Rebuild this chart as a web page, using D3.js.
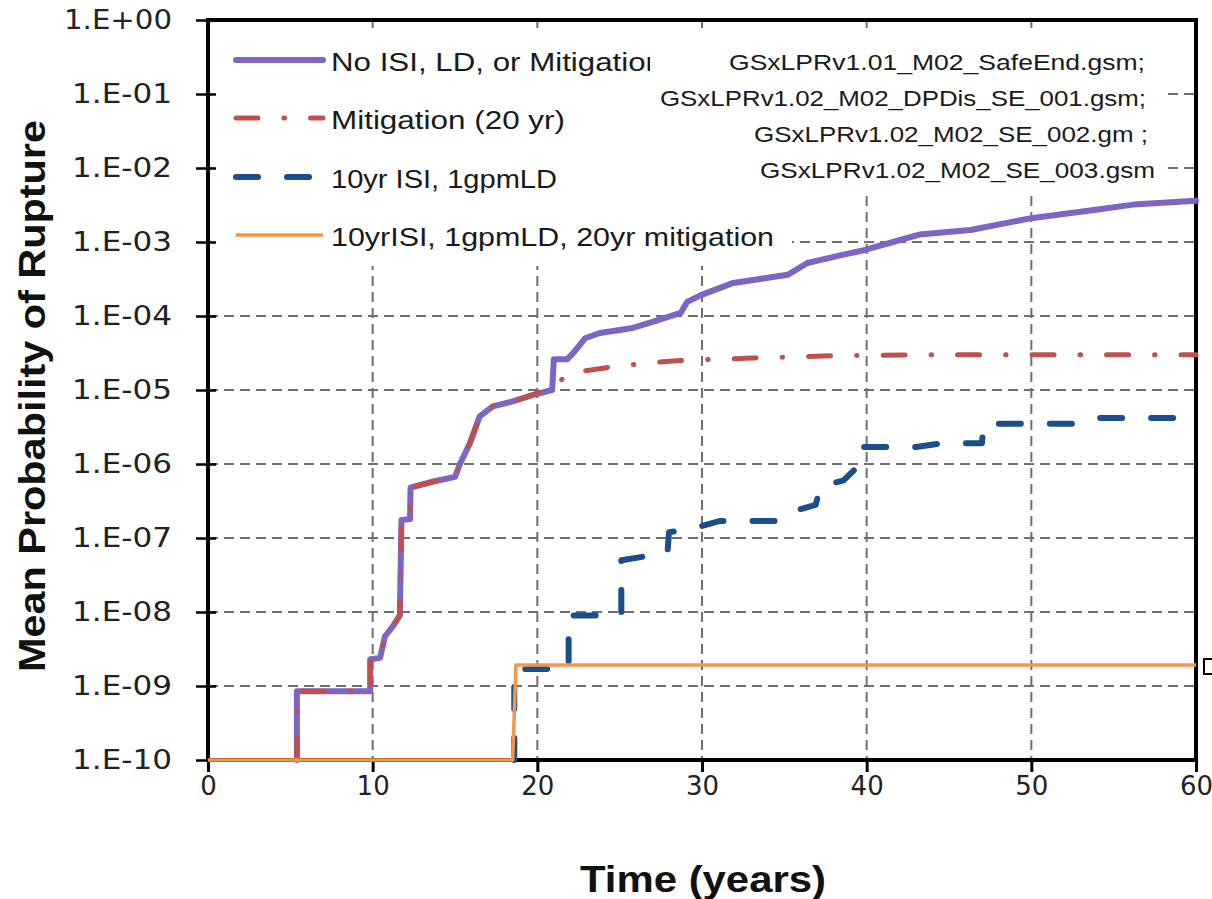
<!DOCTYPE html>
<html><head><meta charset="utf-8">
<script src="https://cdn.jsdelivr.net/npm/d3@7"></script>
<style>body{margin:0;background:#fff}svg{display:block}</style>
</head><body>
<svg id="c" width="1212" height="899"></svg>
<script>
// ---- data ----
const yTicks = [1e-10,1e-9,1e-8,1e-7,1e-6,1e-5,1e-4,1e-3,1e-2,1e-1,1];
const yTickLabels = ["1.E-10","1.E-09","1.E-08","1.E-07","1.E-06","1.E-05","1.E-04","1.E-03","1.E-02","1.E-01","1.E+00"];
const xTicks = [0,10,20,30,40,50,60];
const seriesNames = ["No ISI, LD, or Mitigation","Mitigation (20 yr)","10yr ISI, 1gpmLD","10yrISI, 1gpmLD, 20yr mitigation"];
const annotations = ["GSxLPRv1.01_M02_SafeEnd.gsm;","GSxLPRv1.02_M02_DPDis_SE_001.gsm;","GSxLPRv1.02_M02_SE_002.gm ;","GSxLPRv1.02_M02_SE_003.gsm"];

const noMitT = [5.4,5.4,9.85,9.85,10.45,10.75,11.2,11.65,11.75,12.27,12.3,13.7,15.0,15.3,15.9,16.5,17.3,18.5,19.7,20.9,21.0,21.8,22.2,22.9,23.8,25.8,27.0,28.7,29.1,29.9,31.9,35.2,36.4,38.4,39.9,41.6,43.2,46.3,50,53.8,56.2,60];
const noMitP = [1e-10,8.5e-10,8.5e-10,2.3e-9,2.4e-9,4.7e-9,6.3e-9,9e-9,1.75e-7,1.8e-7,4.8e-7,5.8e-7,6.7e-7,1.0e-6,1.9e-6,4.4e-6,6e-6,7e-6,8.5e-6,1.0e-5,2.6e-5,2.6e-5,3.2e-5,5e-5,5.9e-5,6.9e-5,8.3e-5,1.1e-4,1.55e-4,1.9e-4,2.8e-4,3.6e-4,5.2e-4,6.6e-4,7.8e-4,1.0e-3,1.26e-3,1.45e-3,2.1e-3,2.7e-3,3.2e-3,3.6e-3];

const mitT = [5.4,5.4,9.85,9.85,10.45,10.75,11.2,11.65,11.75,12.27,12.3,13.7,15.0,15.3,15.9,16.5,17.3,18.5,19.7,20.9,22.0,24.2,26.5,28.7,33,38,45,60];
const mitP = [1e-10,8.5e-10,8.5e-10,2.3e-9,2.4e-9,4.7e-9,6.3e-9,9e-9,1.75e-7,1.8e-7,4.8e-7,5.8e-7,6.7e-7,1.0e-6,1.9e-6,4.4e-6,6e-6,7e-6,8.5e-6,1.1e-5,1.7e-5,2.0e-5,2.3e-5,2.5e-5,2.7e-5,2.9e-5,3.0e-5,3.0e-5];

const isiT = [18.6,18.6,21.9,21.9,25.1,25.1,27.9,28.0,29.5,31.1,34.5,35.5,36.9,37.2,38.6,39.4,39.6,43,44.5,47.0,47.1,52.8,54.2,60];
const isiP = [1e-10,1.7e-9,1.7e-9,9e-9,9e-9,5.0e-8,6.3e-8,1.2e-7,1.35e-7,1.7e-7,1.7e-7,2.3e-7,2.8e-7,5e-7,6e-7,9e-7,1.7e-6,1.7e-6,1.9e-6,1.9e-6,3.5e-6,3.5e-6,4.2e-6,4.2e-6];

const allT = [0,18.5,18.7,60];
const allP = [1e-10,1e-10,1.92e-9,1.92e-9];

// ---- drawing ----
const svg = d3.select("#c");
const x = d3.scaleLinear().domain([0,60]).range([208,1196]);
const y = d3.scaleLog().domain([1e-10,1]).range([760,20]);

const styles = [
  {color:"#7E64C4", w:6, dash:null, cap:"round"},
  {color:"#C0504D", w:5, dash:"22 26 0.5 26", cap:"round"},
  {color:"#1A4F8B", w:6, dash:"22 29", cap:"round"},
  {color:"#F79646", w:3.5, dash:null, cap:"butt"}
];

// grid
const grid = svg.append("g").attr("stroke","#6f6f6f").attr("stroke-width",2).attr("stroke-dasharray","10 6");
xTicks.slice(1,-1).forEach(t=>grid.append("line").attr("x1",x(t)).attr("x2",x(t)).attr("y1",y(1)).attr("y2",y(1e-10)));
yTicks.slice(1,-1).forEach(v=>grid.append("line").attr("x1",x(0)).attr("x2",x(60)).attr("y1",y(v)).attr("y2",y(v)));

// white boxes behind legend & annotation
svg.append("rect").attr("x",212).attr("y",28).attr("width",580).attr("height",238).attr("fill","#fff");
svg.append("rect").attr("x",650).attr("y",28).attr("width",512).attr("height",164).attr("fill","#fff");

// axes
const yAxis = d3.axisLeft(y).tickValues(yTicks).tickFormat((d,i)=>yTickLabels[i]).tickSizeOuter(0).tickSizeInner(12).tickPadding(24);
const gy = svg.append("g").attr("transform",`translate(${x(0)},0)`).call(yAxis);
gy.select(".domain").remove();
gy.selectAll(".tick line").attr("x1",8).attr("stroke","#000").attr("stroke-width",2.5);
gy.selectAll(".tick text").attr("font-family","DejaVu Sans").attr("font-size",26).attr("fill","#222")
  .attr("textLength",(d,i)=> yTickLabels[i]==="1.E+00"?108:100).attr("lengthAdjust","spacingAndGlyphs");

const xAxis = d3.axisBottom(x).tickValues(xTicks).tickFormat(d3.format("d")).tickSizeOuter(0).tickSizeInner(12).tickPadding(5);
const gx = svg.append("g").attr("transform",`translate(0,${y(1e-10)})`).call(xAxis);
gx.select(".domain").remove();
gx.selectAll(".tick line").attr("stroke","#000").attr("stroke-width",3);
gx.selectAll(".tick text").attr("font-family","DejaVu Sans").attr("font-size",26).attr("fill","#222");

// frame
svg.append("rect").attr("x",x(0)).attr("y",y(1)).attr("width",x(60)-x(0)).attr("height",y(1e-10)-y(1))
  .attr("fill","none").attr("stroke","#000").attr("stroke-width",4);

// series
const series = [[noMitT,noMitP],[mitT,mitP],[isiT,isiP],[allT,allP]];
const line = d3.line().x(d=>x(d[0])).y(d=>y(d[1]));
series.forEach((s,i)=>{
  const pts = s[0].map((t,j)=>[t,s[1][j]]);
  const st = styles[i];
  svg.append("path").attr("d",line(pts)).attr("fill","none").attr("stroke",st.color)
    .attr("stroke-width",st.w).attr("stroke-dasharray",st.dash).attr("stroke-linecap",st.cap).attr("stroke-linejoin","round");
});

// small square at right edge
svg.append("rect").attr("x",1204).attr("y",659).attr("width",10).attr("height",15).attr("fill","#fff").attr("stroke","#000").attr("stroke-width",2);

// legend
svg.append("clipPath").attr("id","lc").append("rect").attr("x",0).attr("y",0).attr("width",650).attr("height",899);
const legY = [60,118,177,235];
const legLen = [332,234,226,443];
seriesNames.forEach((n,i)=>{
  const st = styles[i];
  svg.append("line").attr("x1",236).attr("x2",323).attr("y1",legY[i]).attr("y2",legY[i])
    .attr("stroke",st.color).attr("stroke-width",st.w).attr("stroke-dasharray",st.dash).attr("stroke-linecap",st.cap);
  svg.append("text").attr("x",331).attr("y",legY[i]+11).text(n)
    .attr("font-family","Liberation Sans, Arial").attr("font-size",25).attr("fill","#1a1a1a")
    .attr("textLength",legLen[i]).attr("lengthAdjust","spacingAndGlyphs")
    .attr("clip-path", i===0?"url(#lc)":null);
});

// annotation
const annEnd = [1145,1146,1148,1155];
const annLen = [416,486,394,395];
const annY = [70,106,142,178];
annotations.forEach((a,i)=>{
  svg.append("text").attr("x",annEnd[i]-annLen[i]).attr("y",annY[i]).text(a)
    .attr("font-family","Liberation Sans, Arial").attr("font-size",22).attr("fill","#1a1a1a")
    .attr("textLength",annLen[i]).attr("lengthAdjust","spacingAndGlyphs");
});

// axis titles
svg.append("text").attr("x",703).attr("y",892).attr("text-anchor","middle").text("Time (years)")
  .attr("font-family","Liberation Sans, Arial").attr("font-weight","bold").attr("font-size",36).attr("fill","#111")
  .attr("textLength",246).attr("lengthAdjust","spacingAndGlyphs");
svg.append("text").attr("transform","translate(45,396) rotate(-90)").attr("text-anchor","middle").text("Mean Probability of Rupture")
  .attr("font-family","Liberation Sans, Arial").attr("font-weight","bold").attr("font-size",36).attr("fill","#111")
  .attr("textLength",552).attr("lengthAdjust","spacingAndGlyphs");
</script>
</body></html>
